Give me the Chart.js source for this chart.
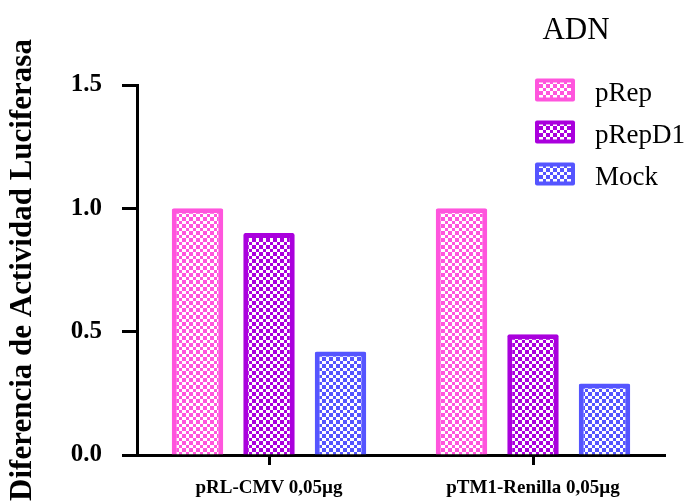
<!DOCTYPE html>
<html>
<head>
<meta charset="utf-8">
<script src="https://cdn.jsdelivr.net/npm/chart.js@4/dist/chart.umd.min.js"></script>
<style>
  html, body { margin: 0; padding: 0; background: #fff; }
  #wrap { width: 692px; height: 504px; position: relative; }
</style>
</head>
<body>
<div id="wrap"><canvas id="c"></canvas></div>
<script>
// ---- data ----
const categories = ['pRL-CMV 0,05µg', 'pTM1-Renilla 0,05µg'];
const seriesNames = ['pRep', 'pRepD1', 'Mock'];
const pRepValues = [1.0, 1.0];
const pRepD1Values = [0.90, 0.49];
const mockValues = [0.42, 0.29];
const yTickValues = [0.0, 0.5, 1.0, 1.5];
const legendTitle = 'ADN';
const yAxisTitle = 'Diferencia de Actividad Luciferasa';

// ---- styles ----
const colors = ['#FF55DD', '#AA00DD', '#5555FF'];
const SERIF = "'Liberation Serif', 'Times New Roman', serif";

function checker(color) {
  const p = document.createElement('canvas');
  p.width = 7; p.height = 7;
  const g = p.getContext('2d');
  g.fillStyle = '#ffffff';
  g.fillRect(0, 0, 7, 7);
  g.fillStyle = color;
  g.fillRect(0, 0, 4, 4);
  g.fillRect(4, 4, 3, 3);
  return g.createPattern(p, 'repeat');
}
const ctx0 = document.getElementById('c').getContext('2d');
const patterns = colors.map(checker);

const seriesValues = [pRepValues, pRepD1Values, mockValues];

const legendPlugin = {
  id: 'customLegend',
  afterDraw(chart) {
    const ctx = chart.ctx;
    ctx.save();
    ctx.fillStyle = '#000';
    ctx.font = '31px ' + SERIF;
    ctx.textAlign = 'center';
    ctx.textBaseline = 'alphabetic';
    ctx.fillText(legendTitle, 576, 39);
    chart.data.datasets.forEach((ds, i) => {
      const cy = 90 + i * 42;
      const x = 535, w = 40, h = 23, y = cy - h / 2;
      ctx.fillStyle = ds.borderColor;
      ctx.beginPath();
      ctx.roundRect(x, y, w, h, 2);
      ctx.fill();
      ctx.fillStyle = ds.backgroundColor;
      ctx.fillRect(x + 4, y + 4, w - 8, h - 8);
      ctx.fillStyle = '#000';
      ctx.font = '27px ' + SERIF;
      ctx.textAlign = 'left';
      ctx.fillText(ds.label, 595, cy + 11);
    });
    ctx.restore();
  }
};

new Chart(ctx0, {
  type: 'bar',
  data: {
    labels: categories,
    datasets: seriesNames.map((name, i) => ({
      label: name,
      data: seriesValues[i],
      backgroundColor: patterns[i],
      borderColor: colors[i],
      borderWidth: 5,
      borderRadius: 2,
      borderSkipped: 'start',
      categoryPercentage: 0.8125,
      barPercentage: 0.72
    }))
  },
  options: {
    responsive: true,
    maintainAspectRatio: false,
    animation: false,
    layout: { padding: { top: 85, right: 27, left: 0, bottom: 0 } },
    plugins: {
      legend: { display: false },
      tooltip: { enabled: false }
    },
    scales: {
      x: {
        afterFit(scale) { scale.height = 49; },
        grid: {
          offset: false,
          drawOnChartArea: false,
          drawTicks: true,
          tickLength: 10,
          tickWidth: 3,
          tickColor: '#000'
        },
        border: { display: true, color: '#000', width: 3 },
        ticks: {
          color: '#000',
          padding: 12,
          font: { family: SERIF, size: 19, weight: 'bold' },
          maxRotation: 0
        }
      },
      y: {
        min: 0,
        max: 1.5,
        afterFit(scale) { scale.width = 137; },
        afterBuildTicks(scale) { scale.ticks = yTickValues.map(v => ({ value: v })); },
        grid: {
          drawOnChartArea: false,
          drawTicks: true,
          tickLength: 15,
          tickWidth: 3,
          tickColor: '#000'
        },
        border: { display: true, color: '#000', width: 3 },
        ticks: {
          color: '#000',
          padding: 20,
          font: { family: SERIF, size: 25, weight: 'bold' },
          callback: (v) => Number(v).toFixed(1)
        },
        title: {
          display: true,
          text: yAxisTitle,
          color: '#000',
          padding: { top: 4, bottom: 0 },
          font: { family: SERIF, size: 31, weight: 'bold' }
        }
      }
    }
  },
  plugins: [legendPlugin]
});
</script>
</body>
</html>
